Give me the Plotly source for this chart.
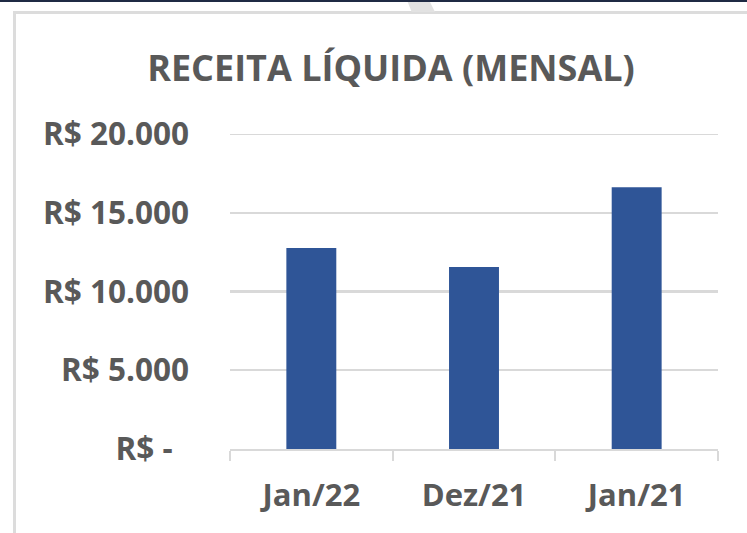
import plotly.graph_objects as go

categories = ["Jan/22", "Dez/21", "Jan/21"]
values = [12760, 11560, 16620]
tick_vals = [0, 5000, 10000, 15000, 20000]
tick_text = ["R$ -\u00a0\u00a0", "R$ 5.000", "R$ 10.000", "R$ 15.000", "R$ 20.000"]
title_text = "RECEITA LÍQUIDA (MENSAL)"

W, H = 747, 533
ml, mr, mt, mb = 230, 29, 134, 84
PW, PH = W - ml - mr, H - mt - mb
FONT = "Open Sans"
GRAY = "#595959"
LINE = "#d9d9d9"


def px(x):
    return (x - ml) / PW


def py(y):
    return (H - mb - y) / PH


fig = go.Figure(go.Bar(
    x=categories, y=values, width=0.307,
    marker=dict(color="#2f5597", line=dict(width=0)),
))

fig.update_layout(
    width=W, height=H,
    margin=dict(l=ml, r=mr, t=mt, b=mb, pad=0),
    paper_bgcolor="white", plot_bgcolor="white",
    showlegend=False,
    title=dict(text=title_text, x=(150 + 632) / 2 / W, xanchor="center",
               y=1 - 68 / H, yanchor="middle",
               font=dict(family=FONT, size=36, color=GRAY, weight="bold")),
    xaxis=dict(
        type="category", showgrid=False, tickson="boundaries",
        ticks="outside", ticklen=10, tickwidth=2.2, tickcolor=LINE,
        showline=True, linecolor=LINE, linewidth=2.2,
        tickfont=dict(family=FONT, size=31, color=GRAY, weight="bold"),
        ticklabelstandoff=18, fixedrange=True, automargin=False,
    ),
    yaxis=dict(
        range=[0, 20000], tickvals=tick_vals, ticktext=tick_text,
        showgrid=True, gridcolor=LINE, gridwidth=2.2,
        zeroline=False, showline=False, ticks="",
        tickfont=dict(family=FONT, size=31.5, color=GRAY, weight="bold"),
        ticklabelstandoff=40, fixedrange=True, automargin=False,
    ),
    shapes=[
        dict(type="line", xref="paper", yref="y", x0=0, x1=1, y0=20000, y1=20000,
             line=dict(color=LINE, width=2.2), layer="below"),
        dict(type="rect", xref="paper", yref="paper",
             x0=px(14.5), x1=px(W + 20), y0=py(H + 20), y1=py(12.5),
             line=dict(color="#dcdcdc", width=3), fillcolor="rgba(0,0,0,0)", layer="below"),
        dict(type="rect", xref="paper", yref="paper",
             x0=px(0), x1=px(W), y0=py(2), y1=py(-1),
             line=dict(width=0), fillcolor="#1f2a44"),
        dict(type="path", xref="paper", yref="paper",
             path="M {} {} L {} {} L {} {} L {} {} Z".format(
                 px(407.7), py(2), px(430), py(2), px(435), py(12), px(411.7), py(12)),
             line=dict(width=0), fillcolor="#e2e2e2", layer="below"),
    ],
)

fig.write_html("out.html", config={"displayModeBar": False, "staticPlot": True},
               post_script="document.body.style.margin='0';document.body.style.overflow='hidden';")
